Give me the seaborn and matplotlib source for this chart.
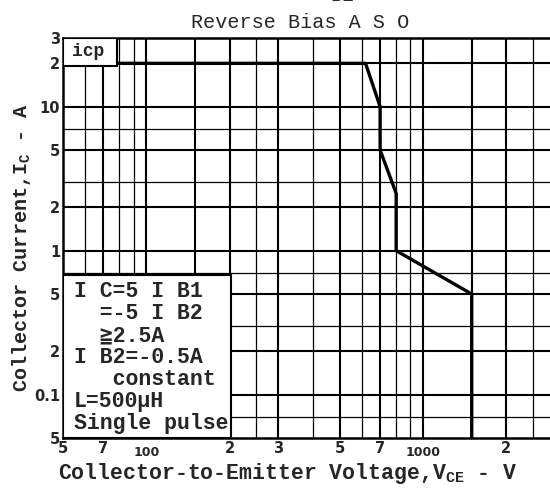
import matplotlib
matplotlib.use('Agg')
import matplotlib.pyplot as plt
import seaborn as sns
import pandas as pd
from matplotlib.patches import Rectangle
from matplotlib.ticker import NullLocator

# --- Data ---
vce = [50, 620, 700, 700, 800, 800, 1500, 1500]
ic = [20, 20, 10, 5, 2.5, 1, 0.5, 0.05]

# grid lines of the log paper
grid_x_heavy = [70, 100, 150, 200, 300, 500, 700, 1000, 1500, 2000]
grid_x_light = [60, 80, 90, 250, 400, 600, 800, 900, 2500]
grid_y_heavy = [20, 10, 5, 2, 1, 0.5, 0.2, 0.1]
grid_y_light = [7, 3, 0.7, 0.3, 0.07]

xtick_vals = [50, 70, 100, 200, 300, 500, 700, 1000, 2000, 3000]
xtick_labels = ['5', '7', '100', '2', '3', '5', '7', '1000', '2', '3']
ytick_vals = [30, 20, 10, 5, 2, 1, 0.5, 0.2, 0.1, 0.05]
ytick_labels = ['3', '2', '10', '5', '2', '1', '5', '2', '0.1', '5']

cond_lines = ['I C=5 I B1', '  =-5 I B2', '  \u22672.5A', 'I B2=-0.5A',
              '   constant', 'L=500\u03bcH', 'Single pulse']

df = pd.DataFrame({'vce': vce, 'ic': ic})

sns.set_style('white')
mono = ['Liberation Mono', 'DejaVu Sans Mono', 'DejaVu Sans']
plt.rcParams['font.family'] = mono
plt.rcParams['mathtext.fontset'] = 'custom'
plt.rcParams['mathtext.rm'] = 'Liberation Mono:bold'

fig = plt.figure(figsize=(5.5, 4.95), dpi=100)
ax = fig.add_axes([63 / 550, 1 - 438 / 495, (555 - 63) / 550, (438 - 38) / 495])
ax.set_xscale('log')
ax.set_yscale('log')

# grid
for v in grid_x_heavy:
    ax.axvline(v, color='black', lw=1.5, zorder=1)
for v in grid_x_light:
    ax.axvline(v, color='black', lw=0.9, zorder=1)
for v in grid_y_heavy:
    ax.axhline(v, color='black', lw=1.5, zorder=1)
for v in grid_y_light:
    ax.axhline(v, color='black', lw=0.9, zorder=1)

# SOA curve
sns.lineplot(data=df, x='vce', y='ic', sort=False, estimator=None,
             color='black', lw=2.4, ax=ax, zorder=4)

ax.set_xlim(50, 3000)
ax.set_ylim(0.05, 30)
ax.set_xlabel('')
ax.set_ylabel('')
for s in ax.spines.values():
    s.set_color('black')
    s.set_linewidth(1.8)

ax.xaxis.set_minor_locator(NullLocator())
ax.yaxis.set_minor_locator(NullLocator())
ax.set_xticks(xtick_vals, xtick_labels)
ax.set_yticks(ytick_vals, ytick_labels)
ax.tick_params(length=0, labelsize=10.5, pad=2)
for lbl in ax.get_xticklabels() + ax.get_yticklabels():
    lbl.set_fontfamily('DejaVu Sans')
    lbl.set_fontweight('bold')
xt = ax.xaxis.get_major_ticks()
for i in (2, 7):
    xt[i].set_pad(6)
    xt[i].label1.set_fontsize(9)

# icp box
ax.add_patch(Rectangle((0, 0.93), 0.11, 0.07, transform=ax.transAxes,
                       fc='white', ec='black', lw=1.5, zorder=5))
ax.text(0.018, 0.965, 'icp', transform=ax.transAxes, fontsize=13,
        fontweight='bold', va='center', ha='left', zorder=6)

# conditions box
ax.add_patch(Rectangle((0, 0), 0.341, 0.4075, transform=ax.transAxes,
                       fc='white', ec='black', lw=1.5, zorder=5))
ax.text(0.022, 0.392, '\n'.join(cond_lines), transform=ax.transAxes,
        fontsize=15.5, fontweight='bold', va='top', ha='left',
        linespacing=1.06, zorder=6)

fig.text(300 / 550, 1 - 22 / 495, 'Reverse Bias A S O', fontsize=14.5,
         ha='center', va='center')
fig.text(343 / 550, 1 - 5 / 495, 'B2', fontsize=14.5, ha='center', va='bottom')
fig.text(288 / 550, 1 - 474 / 495, r'Collector-to-Emitter Voltage,V$\mathrm{_{CE}}$ - V',
         fontsize=15.5, fontweight='bold', ha='center', va='center')
fig.text(22 / 550, 1 - 248 / 495, r'Collector Current,I$\mathrm{_C}$ - A',
         fontsize=14.5, fontweight='bold', ha='center', va='center', rotation=90)

fig.savefig('out.png', dpi=100, facecolor='white')
